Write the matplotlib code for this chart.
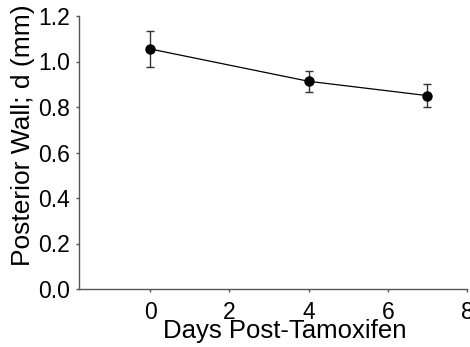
import matplotlib
matplotlib.use("Agg")
import matplotlib.pyplot as plt

days = [0, 4, 7]
wall = [1.055, 0.913, 0.850]
err = [0.080, 0.045, 0.050]
xticks = [0, 2, 4, 6, 8]
yticks = [0.0, 0.2, 0.4, 0.6, 0.8, 1.0, 1.2]

plt.rcParams['font.family'] = ['Liberation Sans', 'DejaVu Sans']
W, H = 470, 347
fig = plt.figure(figsize=(4.7, 3.47), dpi=100)
ax = fig.add_axes([79 / W, 1 - 289 / H, (467 - 79) / W, (289 - 16) / H])
ax.errorbar(days, wall, yerr=err, fmt='o-', color='black', ecolor='#333333',
            elinewidth=1.0, capsize=3, capthick=1.0, markersize=6.5, linewidth=0.9)
ax.set_xlim(-1.8, 8)
ax.set_ylim(0, 1.2)
ax.set_xticks(xticks)
ax.set_yticks(yticks)
ax.set_yticklabels([f"{v:.1f}" for v in yticks])
for s in ['top', 'right']:
    ax.spines[s].set_visible(False)
for s in ['left', 'bottom']:
    ax.spines[s].set_color('#555555')
    ax.spines[s].set_linewidth(1.0)
ax.tick_params(labelsize=16.5, length=2.5, width=1, color='#555555')
ax.tick_params(axis='x', pad=6)
ax.tick_params(axis='y', pad=4)
fig.text(285 / W, 1 - 338 / H, 'Days Post-Tamoxifen', fontsize=18.5,
         ha='center', va='baseline')
fig.text(23.5 / W, 1 - 266 / H, 'Posterior Wall; d (mm)', fontsize=19,
         rotation=90, ha='center', va='bottom')
fig.savefig('out.png', dpi=100)
